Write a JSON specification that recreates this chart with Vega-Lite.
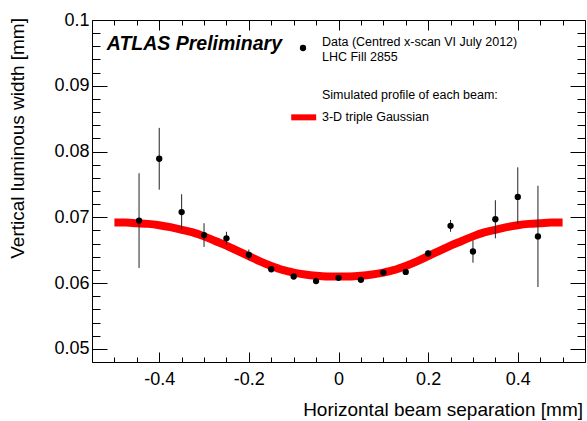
{
  "$schema": "https://vega.github.io/schema/vega-lite/v6.json",
  "width": 493,
  "height": 342,
  "autosize": {"type": "none"},
  "padding": {"left": 92, "top": 20, "right": 2, "bottom": 59},
  "background": "white",
  "config": {
    "view": {"stroke": null},
    "font": "Liberation Sans",
    "axis": {"grid": false, "domainColor": "black", "tickColor": "black", "labelColor": "black", "titleColor": "black", "labelFont": "Liberation Sans", "titleFont": "Liberation Sans", "titleFontWeight": "normal", "labelFlush": false, "labelOverlap": false, "domainWidth": 1, "tickWidth": 1}
  },
  "datasets": {
    "curve": [
      {"x": -0.5, "w": 0.0692}, {"x": -0.475, "w": 0.0692}, {"x": -0.45, "w": 0.0691}, {"x": -0.425, "w": 0.069}, {"x": -0.4, "w": 0.0688},
      {"x": -0.375, "w": 0.0685}, {"x": -0.35, "w": 0.0681}, {"x": -0.325, "w": 0.0677}, {"x": -0.3, "w": 0.0671}, {"x": -0.275, "w": 0.0664},
      {"x": -0.25, "w": 0.0657}, {"x": -0.225, "w": 0.0649}, {"x": -0.2, "w": 0.0641}, {"x": -0.175, "w": 0.0633}, {"x": -0.15, "w": 0.0626},
      {"x": -0.125, "w": 0.062}, {"x": -0.1, "w": 0.0616}, {"x": -0.075, "w": 0.0613}, {"x": -0.05, "w": 0.0611}, {"x": -0.025, "w": 0.061},
      {"x": 0, "w": 0.061},
      {"x": 0.025, "w": 0.061}, {"x": 0.05, "w": 0.0611}, {"x": 0.075, "w": 0.0613}, {"x": 0.1, "w": 0.0616}, {"x": 0.125, "w": 0.062},
      {"x": 0.15, "w": 0.0626}, {"x": 0.175, "w": 0.0633}, {"x": 0.2, "w": 0.0641}, {"x": 0.225, "w": 0.0649}, {"x": 0.25, "w": 0.0657},
      {"x": 0.275, "w": 0.0664}, {"x": 0.3, "w": 0.0671}, {"x": 0.325, "w": 0.0677}, {"x": 0.35, "w": 0.0681}, {"x": 0.375, "w": 0.0685},
      {"x": 0.4, "w": 0.0688}, {"x": 0.425, "w": 0.069}, {"x": 0.45, "w": 0.0691}, {"x": 0.475, "w": 0.0692}, {"x": 0.5, "w": 0.0692}
    ],
    "points": [
      {"x": -0.445, "w": 0.0695, "lo": 0.0623, "hi": 0.0767},
      {"x": -0.4, "w": 0.0789, "lo": 0.0742, "hi": 0.0836},
      {"x": -0.35, "w": 0.0708, "lo": 0.0681, "hi": 0.0735},
      {"x": -0.3, "w": 0.0673, "lo": 0.0655, "hi": 0.0691},
      {"x": -0.25, "w": 0.0668, "lo": 0.0658, "hi": 0.0678},
      {"x": -0.2, "w": 0.0643, "lo": 0.0635, "hi": 0.0651},
      {"x": -0.15, "w": 0.0621, "lo": 0.0617, "hi": 0.0625},
      {"x": -0.1, "w": 0.061, "lo": 0.0606, "hi": 0.0614},
      {"x": -0.05, "w": 0.0603, "lo": 0.06, "hi": 0.0606},
      {"x": 0, "w": 0.0608, "lo": 0.0605, "hi": 0.0611},
      {"x": 0.05, "w": 0.0605, "lo": 0.0602, "hi": 0.0608},
      {"x": 0.1, "w": 0.0616, "lo": 0.0613, "hi": 0.0619},
      {"x": 0.15, "w": 0.0617, "lo": 0.0613, "hi": 0.0621},
      {"x": 0.2, "w": 0.0645, "lo": 0.064, "hi": 0.065},
      {"x": 0.25, "w": 0.0687, "lo": 0.0678, "hi": 0.0696},
      {"x": 0.3, "w": 0.0648, "lo": 0.0631, "hi": 0.0665},
      {"x": 0.35, "w": 0.0697, "lo": 0.0668, "hi": 0.0726},
      {"x": 0.4, "w": 0.0731, "lo": 0.069, "hi": 0.0776},
      {"x": 0.445, "w": 0.0671, "lo": 0.0594, "hi": 0.0748}
    ],
    "atlas": [{"x": -0.517, "w": 0.09635, "t": "ATLAS Preliminary"}],
    "legendText": [
      {"x": -0.0368, "w": 0.0967, "t": "Data (Centred x-scan VI July 2012)"},
      {"x": -0.0368, "w": 0.09442, "t": "LHC Fill 2855"},
      {"x": -0.0368, "w": 0.0886, "t": "Simulated profile of each beam:"},
      {"x": -0.0368, "w": 0.0853, "t": "3-D triple Gaussian"}
    ],
    "legendDot": [{"x": -0.0792, "w": 0.09574}],
    "legendSwatch": [{"x": -0.1055, "x2": -0.0498, "w": 0.0852}],
    "xTitle": [{"x": 0.5455, "w": 0.0407, "t": "Horizontal beam separation [mm]"}],
    "yTitle": [{"x": -0.715, "w": 0.1003, "t": "Vertical luminous width [mm]"}]
  },
  "resolve": {"axis": {"x": "independent", "y": "independent"}},
  "layer": [
    {
      "data": {"name": "curve"},
      "mark": {"type": "line", "color": "#ff0000", "strokeWidth": 8, "interpolate": "monotone"},
      "encoding": {
        "x": {"field": "x", "type": "quantitative", "scale": {"domain": [-0.55, 0.55], "nice": false, "zero": false},
          "axis": {"orient": "bottom", "values": [-0.4, -0.2, 0, 0.2, 0.4], "format": "~g", "labelExpr": "replace(datum.label, '\u2212', '-')", "ticks": false, "labelPadding": 8, "labelFontSize": 18, "title": null}},
        "y": {"field": "w", "type": "quantitative", "scale": {"domain": [0.048, 0.1], "nice": false, "zero": false},
          "axis": {"orient": "left", "values": [0.05, 0.06, 0.07, 0.08, 0.09, 0.1], "format": "~g", "ticks": false, "labelPadding": 3, "labelFontSize": 18, "title": null}}
      }
    },
    {
      "data": {"name": "points"},
      "mark": {"type": "rule", "color": "#222222", "strokeWidth": 1},
      "encoding": {
        "x": {"field": "x", "type": "quantitative", "scale": {"domain": [-0.55, 0.55], "nice": false, "zero": false},
          "axis": {"orient": "bottom", "values": [-0.4, -0.2, 0, 0.2, 0.4], "labels": false, "domain": false, "tickSize": -10, "tickColor": "black", "title": null}},
        "y": {"field": "lo", "type": "quantitative", "scale": {"domain": [0.048, 0.1], "nice": false, "zero": false},
          "axis": {"orient": "left", "values": [0.05, 0.06, 0.07, 0.08, 0.09, 0.1], "labels": false, "domain": false, "tickSize": -15, "tickColor": "black", "title": null}},
        "y2": {"field": "hi"}
      }
    },
    {
      "data": {"name": "points"},
      "mark": {"type": "point", "filled": true, "color": "black", "size": 40, "opacity": 1},
      "encoding": {
        "x": {"field": "x", "type": "quantitative", "scale": {"domain": [-0.55, 0.55], "nice": false, "zero": false},
          "axis": {"orient": "bottom", "values": [-0.5, -0.45, -0.35, -0.3, -0.25, -0.15, -0.1, -0.05, 0.05, 0.1, 0.15, 0.25, 0.3, 0.35, 0.45, 0.5], "labels": false, "domain": false, "tickSize": -5, "tickColor": "black", "title": null}},
        "y": {"field": "w", "type": "quantitative", "scale": {"domain": [0.048, 0.1], "nice": false, "zero": false},
          "axis": {"orient": "left", "values": [0.048, 0.052, 0.054, 0.056, 0.058, 0.062, 0.064, 0.066, 0.068, 0.072, 0.074, 0.076, 0.078, 0.082, 0.084, 0.086, 0.088, 0.092, 0.094, 0.096, 0.098], "labels": false, "domain": false, "tickSize": -8, "tickColor": "black", "title": null}}
      }
    },
    {
      "data": {"name": "atlas"},
      "mark": {"type": "text", "align": "left", "baseline": "middle", "fontSize": 19.5, "fontWeight": "bold", "fontStyle": "italic", "color": "black"},
      "encoding": {
        "x": {"field": "x", "type": "quantitative", "scale": {"domain": [-0.55, 0.55], "nice": false, "zero": false},
          "axis": {"orient": "top", "values": [-0.4, -0.2, 0, 0.2, 0.4], "labels": false, "domain": true, "domainColor": "black", "tickSize": -10, "tickColor": "black", "title": null}},
        "y": {"field": "w", "type": "quantitative", "scale": {"domain": [0.048, 0.1], "nice": false, "zero": false},
          "axis": {"orient": "right", "values": [0.05, 0.06, 0.07, 0.08, 0.09, 0.1], "labels": false, "domain": true, "domainColor": "black", "tickSize": -15, "tickColor": "black", "title": null}},
        "text": {"field": "t"}
      }
    },
    {
      "data": {"name": "legendText"},
      "mark": {"type": "text", "align": "left", "baseline": "middle", "fontSize": 12.5, "color": "black"},
      "encoding": {
        "x": {"field": "x", "type": "quantitative", "scale": {"domain": [-0.55, 0.55], "nice": false, "zero": false},
          "axis": {"orient": "top", "values": [-0.5, -0.45, -0.35, -0.3, -0.25, -0.15, -0.1, -0.05, 0.05, 0.1, 0.15, 0.25, 0.3, 0.35, 0.45, 0.5], "labels": false, "domain": false, "tickSize": -5, "tickColor": "black", "title": null}},
        "y": {"field": "w", "type": "quantitative", "scale": {"domain": [0.048, 0.1], "nice": false, "zero": false},
          "axis": {"orient": "right", "values": [0.048, 0.052, 0.054, 0.056, 0.058, 0.062, 0.064, 0.066, 0.068, 0.072, 0.074, 0.076, 0.078, 0.082, 0.084, 0.086, 0.088, 0.092, 0.094, 0.096, 0.098], "labels": false, "domain": false, "tickSize": -8, "tickColor": "black", "title": null}},
        "text": {"field": "t"}
      }
    },
    {
      "data": {"name": "legendDot"},
      "mark": {"type": "point", "filled": true, "color": "black", "size": 40, "opacity": 1},
      "encoding": {
        "x": {"field": "x", "type": "quantitative", "scale": {"domain": [-0.55, 0.55], "nice": false, "zero": false}, "axis": null},
        "y": {"field": "w", "type": "quantitative", "scale": {"domain": [0.048, 0.1], "nice": false, "zero": false}, "axis": null}
      }
    },
    {
      "data": {"name": "legendSwatch"},
      "mark": {"type": "rule", "color": "#ff0000", "strokeWidth": 6},
      "encoding": {
        "x": {"field": "x", "type": "quantitative", "scale": {"domain": [-0.55, 0.55], "nice": false, "zero": false}, "axis": null},
        "x2": {"field": "x2"},
        "y": {"field": "w", "type": "quantitative", "scale": {"domain": [0.048, 0.1], "nice": false, "zero": false}, "axis": null}
      }
    },
    {
      "data": {"name": "xTitle"},
      "mark": {"type": "text", "align": "right", "baseline": "middle", "fontSize": 19, "color": "black", "clip": false},
      "encoding": {
        "x": {"field": "x", "type": "quantitative", "scale": {"domain": [-0.55, 0.55], "nice": false, "zero": false}, "axis": null},
        "y": {"field": "w", "type": "quantitative", "scale": {"domain": [0.048, 0.1], "nice": false, "zero": false}, "axis": null},
        "text": {"field": "t"}
      }
    },
    {
      "data": {"name": "yTitle"},
      "mark": {"type": "text", "align": "right", "baseline": "middle", "angle": 270, "fontSize": 19, "color": "black", "clip": false},
      "encoding": {
        "x": {"field": "x", "type": "quantitative", "scale": {"domain": [-0.55, 0.55], "nice": false, "zero": false}, "axis": null},
        "y": {"field": "w", "type": "quantitative", "scale": {"domain": [0.048, 0.1], "nice": false, "zero": false}, "axis": null},
        "text": {"field": "t"}
      }
    }
  ]
}
